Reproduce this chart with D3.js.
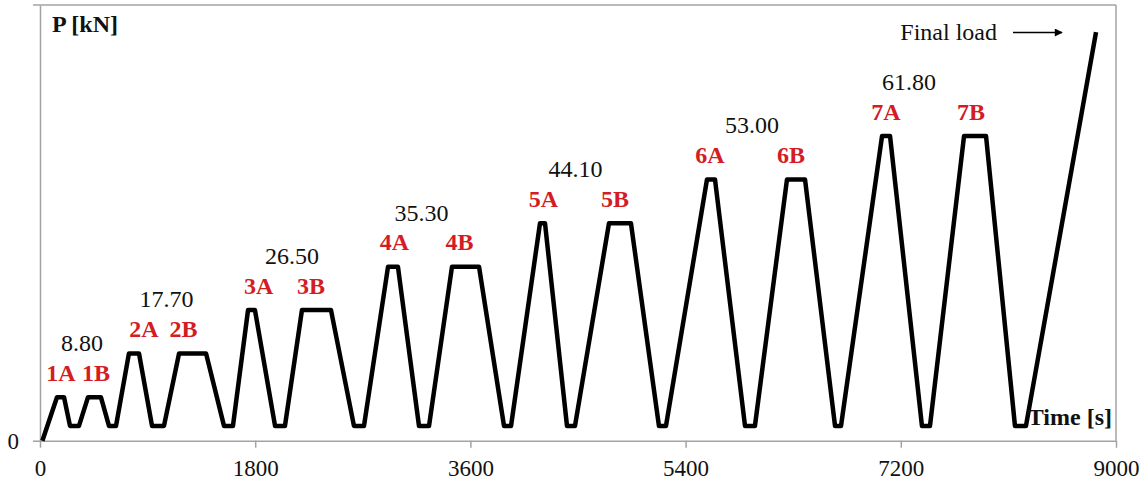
<!DOCTYPE html>
<html>
<head>
<meta charset="utf-8">
<script src="https://cdn.jsdelivr.net/npm/d3@7"></script>
<style>
  html, body { margin: 0; padding: 0; background: #fff; }
  svg { display: block; }
  text { font-family: "Liberation Serif", "Times New Roman", serif; }
</style>
</head>
<body>
<svg id="chart" width="1145" height="481"></svg>
<script>
// Loading history: time (s) and applied load P (kN)
const timeSec = [
  20, 142, 201, 251, 326, 401, 510, 577, 636,
  744, 828, 937, 1037, 1163, 1389, 1539, 1614,
  1740, 1798, 1966, 2049, 2191, 2434, 2626, 2710,
  2911, 2994, 3170, 3254, 3446, 3672, 3881, 3940,
  4182, 4224, 4408, 4475, 4759, 4943, 5177, 5236,
  5579, 5646, 5897, 5980, 6248, 6399, 6650, 6700,
  7043, 7110, 7377, 7444, 7729, 7913, 8155, 8247,
  8833
];
const loadKN = [
  0, 8.8, 8.8, 3.0, 3.0, 8.8, 8.8, 3.0, 3.0,
  17.7, 17.7, 3.0, 3.0, 17.7, 17.7, 3.0, 3.0,
  26.5, 26.5, 3.0, 3.0, 26.5, 26.5, 3.0, 3.0,
  35.3, 35.3, 3.0, 3.0, 35.3, 35.3, 3.0, 3.0,
  44.1, 44.1, 3.0, 3.0, 44.1, 44.1, 3.0, 3.0,
  53.0, 53.0, 3.0, 3.0, 53.0, 53.0, 3.0, 3.0,
  61.8, 61.8, 3.0, 3.0, 61.8, 61.8, 3.0, 3.0,
  82.9
];

// Load levels of each cycle pair and the stage names
const levelValues = [8.80, 17.70, 26.50, 35.30, 44.10, 53.00, 61.80];
const stageNames = ["1A", "1B", "2A", "2B", "3A", "3B", "4A", "4B", "5A", "5B", "6A", "6B", "7A", "7B"];

// Axis ticks
const xTicks = [0, 1800, 3600, 5400, 7200, 9000];
const yTicks = [0];
const yMax = 88.4;

const svg = d3.select("#chart");
const axisColor = "#a3a3a3";
const labelSize = 24;

const x = d3.scaleLinear().domain([0, 9000]).range([40, 1116]);
const y = d3.scaleLinear().domain([0, yMax]).range([440.7, 5]);

// Plot area frame (top and right edges)
svg.append("line")
  .attr("x1", 33).attr("x2", x(9000)).attr("y1", y(yMax)).attr("y2", y(yMax))
  .attr("stroke", axisColor).attr("stroke-width", 1.5);
svg.append("line")
  .attr("x1", x(9000)).attr("x2", x(9000)).attr("y1", y(yMax)).attr("y2", y(0))
  .attr("stroke", axisColor).attr("stroke-width", 1.5);

// X axis
const xAxis = svg.append("g")
  .attr("transform", `translate(0,${y(0)})`)
  .call(d3.axisBottom(x).tickValues(xTicks).tickFormat(d3.format("d")).tickSize(7).tickSizeOuter(0).tickPadding(12));
xAxis.select(".domain").attr("stroke", axisColor).attr("stroke-width", 1.5);
xAxis.selectAll(".tick line").attr("stroke", axisColor).attr("stroke-width", 1.5);
xAxis.selectAll(".tick text")
  .attr("font-family", "Liberation Serif, Times New Roman, serif")
  .attr("font-size", 23).attr("fill", "#111");

// Y axis
const yAxis = svg.append("g")
  .attr("transform", `translate(${x(0)},0)`)
  .call(d3.axisLeft(y).tickValues(yTicks).tickFormat(d3.format("d")).tickSize(7).tickSizeOuter(0).tickPadding(14));
yAxis.select(".domain").attr("stroke", axisColor).attr("stroke-width", 1.5);
yAxis.selectAll(".tick line").attr("stroke", axisColor).attr("stroke-width", 1.5);
yAxis.selectAll(".tick text")
  .attr("font-family", "Liberation Serif, Times New Roman, serif")
  .attr("font-size", 23).attr("fill", "#111");

// Load history line
const pts = timeSec.map((t, i) => [t, loadKN[i]]);
svg.append("path")
  .datum(pts)
  .attr("d", d3.line().x(d => x(d[0])).y(d => y(d[1])))
  .attr("fill", "none")
  .attr("stroke", "#000")
  .attr("stroke-width", 4.5)
  .attr("stroke-linejoin", "round");

// Stage labels (red) and load level labels (black), anchored in time
const stageAnchor = [176, 468, 870, 1200, 1828, 2267, 2965, 3509, 4211, 4809, 5604, 6281, 7076, 7787];
const levelAnchor = [351, 1058, 2108, 3191, 4479, 5955, 7268];

svg.append("g").selectAll("text")
  .data(stageNames)
  .join("text")
  .attr("x", (d, i) => x(stageAnchor[i]))
  .attr("y", (d, i) => y(levelValues[Math.floor(i / 2)]) - 16.5)
  .attr("text-anchor", "middle")
  .attr("font-size", labelSize)
  .attr("font-weight", "bold")
  .attr("fill", "#d41c24")
  .text(d => d);

svg.append("g").selectAll("text")
  .data(levelValues)
  .join("text")
  .attr("x", (d, i) => x(levelAnchor[i]))
  .attr("y", d => y(d) - 46)
  .attr("text-anchor", "middle")
  .attr("font-size", labelSize)
  .attr("fill", "#111")
  .text(d => d.toFixed(2));

// Axis titles
svg.append("text")
  .attr("x", 52).attr("y", 32)
  .attr("font-size", labelSize).attr("font-weight", "bold").attr("fill", "#111")
  .text("P [kN]");
svg.append("text")
  .attr("x", 1112).attr("y", 425)
  .attr("text-anchor", "end")
  .attr("font-size", labelSize).attr("font-weight", "bold").attr("fill", "#111")
  .text("Time [s]");

// Final load annotation with arrow
svg.append("defs").append("marker")
  .attr("id", "arrowHead")
  .attr("viewBox", "0 0 10 10")
  .attr("refX", 9).attr("refY", 5)
  .attr("markerWidth", 10).attr("markerHeight", 8)
  .attr("markerUnits", "userSpaceOnUse")
  .attr("orient", "auto")
  .append("path").attr("d", "M0,0 L10,5 L0,10 Z").attr("fill", "#000");

svg.append("text")
  .attr("x", 997).attr("y", 40)
  .attr("text-anchor", "end")
  .attr("font-size", labelSize).attr("fill", "#111")
  .text("Final load");
svg.append("line")
  .attr("x1", 1013).attr("x2", 1062).attr("y1", 32.5).attr("y2", 32.5)
  .attr("stroke", "#000").attr("stroke-width", 1.3)
  .attr("marker-end", "url(#arrowHead)");
</script>
</body>
</html>
